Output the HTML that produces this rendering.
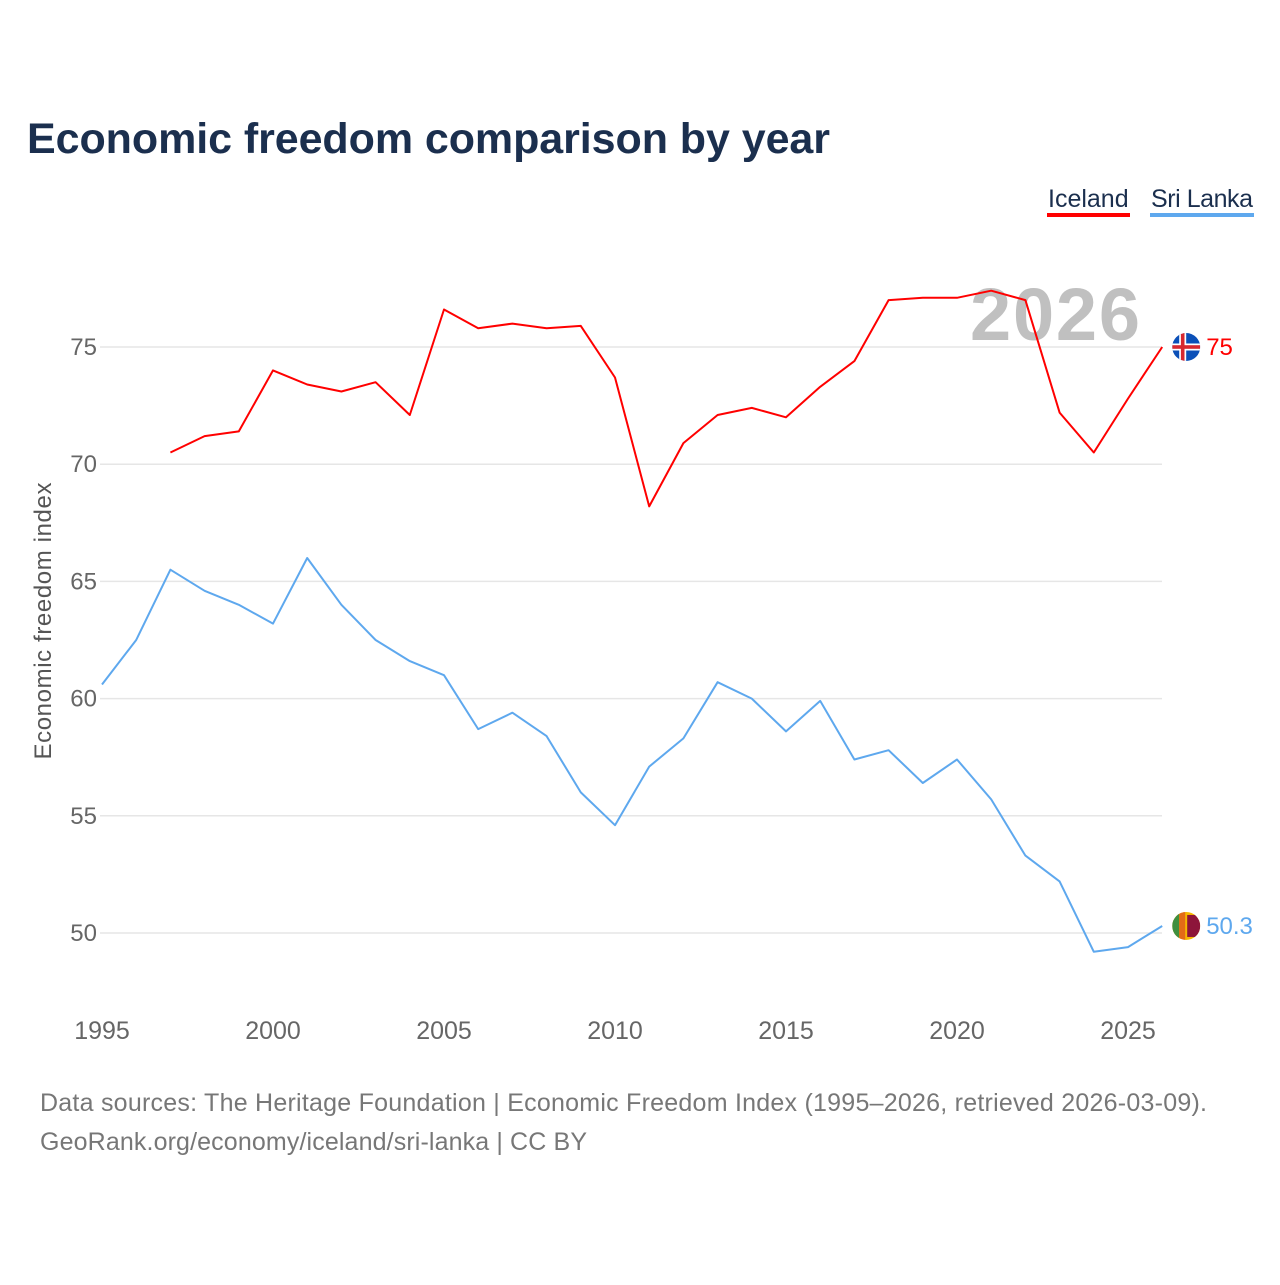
<!DOCTYPE html>
<html><head><meta charset="utf-8">
<style>
body{margin:0;background:#fff;font-family:"Liberation Sans",sans-serif;}
svg text{font-family:"Liberation Sans",sans-serif;}
</style></head>
<body>
<svg id="chart" width="1280" height="1280" viewBox="0 0 1280 1280" xmlns="http://www.w3.org/2000/svg">
<defs>
<clipPath id="c1"><circle cx="0" cy="0" r="14"/></clipPath>
</defs>
<rect width="1280" height="1280" fill="#fff"/>
<text x="27" y="153" font-size="43" font-weight="bold" fill="#1b2f4e" textLength="803">Economic freedom comparison by year</text>
<g>
<text x="1048" y="207" font-size="25" fill="#1b2f4e">Iceland</text>
<rect x="1047" y="213" width="83" height="4" fill="#ff0000"/>
<text x="1151" y="207" font-size="25" fill="#1b2f4e" textLength="102">Sri Lanka</text>
<rect x="1150" y="213" width="104" height="4" fill="#5ea8ee"/>
</g>
<text x="1140" y="340" font-size="74" font-weight="bold" fill="#c0c0c0" text-anchor="end" textLength="170">2026</text>
<g id="grid"></g><g id="yticks"></g><g id="xticks"></g><g id="lines"></g>
<text transform="translate(51,621) rotate(-90)" font-size="24" fill="#555" text-anchor="middle" textLength="277">Economic freedom index</text>
<text x="40" y="1111" font-size="25" fill="#777" textLength="1167">Data sources: The Heritage Foundation | Economic Freedom Index (1995–2026, retrieved 2026-03-09).</text>
<text x="40" y="1150" font-size="25" fill="#777" textLength="547">GeoRank.org/economy/iceland/sri-lanka | CC BY</text>
</svg>
<script>
const years = [1995,1996,1997,1998,1999,2000,2001,2002,2003,2004,2005,2006,2007,2008,2009,2010,2011,2012,2013,2014,2015,2016,2017,2018,2019,2020,2021,2022,2023,2024,2025,2026];
const iceland = [null,null,70.5,71.2,71.4,74.0,73.4,73.1,73.5,72.1,76.6,75.8,76.0,75.8,75.9,73.7,68.2,70.9,72.1,72.4,72.0,73.3,74.4,77.0,77.1,77.1,77.4,77.0,72.2,70.5,72.8,75.0];
const sriLanka = [60.6,62.5,65.5,64.6,64.0,63.2,66.0,64.0,62.5,61.6,61.0,58.7,59.4,58.4,56.0,54.6,57.1,58.3,60.7,60.0,58.6,59.9,57.4,57.8,56.4,57.4,55.7,53.3,52.2,49.2,49.4,50.3];
const yTicks = [50,55,60,65,70,75];
const xTicks = [1995,2000,2005,2010,2015,2020,2025];
const NS="http://www.w3.org/2000/svg";
const xS = y => 102 + (y-1995)*(1026/30);
const yS = v => 933 - (v-50)*(586/25);
function mk(t,a,p){const e=document.createElementNS(NS,t);for(const k in a)e.setAttribute(k,a[k]);p.appendChild(e);return e;}
const grid=document.getElementById('grid'),yt=document.getElementById('yticks'),xt=document.getElementById('xticks'),ln=document.getElementById('lines');
yTicks.forEach(v=>{
 const l=mk('line',{x1:100,x2:1162,y1:yS(v),y2:yS(v),stroke:'#e6e6e6','stroke-width':1.5},grid);
 
 
 const t=mk('text',{x:97,y:yS(v)+8,'font-size':24,fill:'#666','text-anchor':'end'},yt);t.textContent=v;
 
 
});
xTicks.forEach(v=>{
 const t=mk('text',{x:xS(v),y:1039,'font-size':25,fill:'#666','text-anchor':'middle'},xt);t.textContent=v;
 
 
});
function series(vals,color,name,flag){
 let d='';vals.forEach((v,i)=>{if(v==null)return;d+=(d?'L':'M')+xS(years[i]).toFixed(1)+','+yS(v).toFixed(1);});
 const p=mk('path',{d:d,fill:'none',stroke:color,'stroke-width':2,'stroke-linejoin':'round'},ln);
 
 
 const last=vals[vals.length-1],lx=xS(years[years.length-1]),ly=yS(last);
 const g=mk('g',{transform:'translate('+(lx+24)+','+ly+')','clip-path':'url(#c1)'},ln);
 
 
 g.innerHTML=flag;
 const t=mk('text',{x:lx+44,y:ly+8,'font-size':24,fill:color},ln);t.textContent=last;
 
 
}
series(iceland,'#ff0000','iceland','<rect x="-14" y="-14" width="28" height="28" fill="#0b50b8"/><rect x="-14" y="-3.5" width="28" height="7" fill="#fff"/><rect x="-7" y="-14" width="7" height="28" fill="#fff"/><rect x="-14" y="-1.8" width="28" height="3.6" fill="#d7282f"/><rect x="-5.3" y="-14" width="3.6" height="28" fill="#d7282f"/>');
series(sriLanka,'#5ea8ee','sri-lanka','<rect x="-14" y="-14" width="28" height="28" fill="#f5b800"/><rect x="-14" y="-14" width="7" height="28" fill="#3f8f3f"/><rect x="-7" y="-14" width="6" height="28" fill="#e36b17"/><rect x="1" y="-11" width="13" height="22" fill="#8d153a"/>');
</script>
</body></html>
